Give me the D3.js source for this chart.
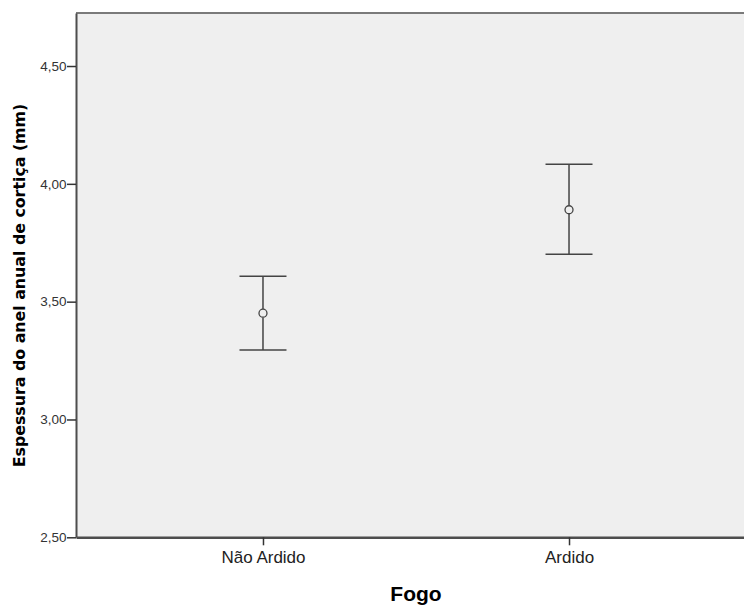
<!DOCTYPE html>
<html>
<head>
<meta charset="utf-8">
<script src="https://cdn.jsdelivr.net/npm/d3@7"></script>
<style>
  html, body { margin: 0; padding: 0; background: #fff; }
  svg { display: block; }
</style>
</head>
<body>
<script>
// Mean bark ring thickness with 95% confidence interval, by fire status
const categories = ["Não Ardido", "Ardido"];
const means = [3.451, 3.890];
const ciLower = [3.295, 3.701];
const ciUpper = [3.608, 4.083];
const yTicks = [2.5, 3.0, 3.5, 4.0, 4.5];
const yDomain = [2.5, 4.725];

const width = 744, height = 608;
const plot = { left: 76, top: 13, right: 756, bottom: 537.3 };

const svg = d3.select("body").append("svg")
  .attr("width", width).attr("height", height);

const x = d3.scalePoint()
  .domain(categories)
  .range([plot.left, plot.right])
  .padding(0.611);

const y = d3.scaleLinear()
  .domain(yDomain)
  .range([plot.bottom, plot.top]);

const ptFormat = d3.formatLocale({ decimal: ",", thousands: ".", grouping: [3], currency: ["", " €"] }).format(".2f");

// plot background
svg.append("rect")
  .attr("x", plot.left).attr("y", plot.top)
  .attr("width", plot.right - plot.left).attr("height", plot.bottom - plot.top)
  .attr("fill", "#efefef");

// frame top
svg.append("line")
  .attr("x1", plot.left).attr("x2", plot.right)
  .attr("y1", plot.top).attr("y2", plot.top)
  .attr("stroke", "#7a7a7a").attr("stroke-width", 2);

// y axis
const yAxis = svg.append("g")
  .attr("transform", `translate(${plot.left},0)`)
  .call(d3.axisLeft(y).tickValues(yTicks).tickFormat(ptFormat).tickSize(9).tickSizeOuter(0));
yAxis.select(".domain").attr("stroke", "#4d4d4d").attr("stroke-width", 2);
yAxis.selectAll(".tick line").attr("stroke", "#333").attr("stroke-width", 1.5);
yAxis.selectAll(".tick text")
  .attr("x", -9.5)
  .attr("fill", "#333")
  .style("font-family", "'Liberation Sans', Arial, sans-serif")
  .style("font-size", "13.5px");

// x axis
const xAxis = svg.append("g")
  .attr("transform", `translate(0,${plot.bottom})`)
  .call(d3.axisBottom(x).tickSize(8).tickSizeOuter(0));
xAxis.select(".domain").attr("stroke", "#4d4d4d").attr("stroke-width", 2.5);
xAxis.selectAll(".tick line").attr("stroke", "#333").attr("stroke-width", 1.5);
xAxis.selectAll(".tick text")
  .attr("y", 14)
  .attr("fill", "#222")
  .style("font-family", "'Liberation Sans', Arial, sans-serif")
  .style("font-size", "17px");

// error bars
const cap = 23.5;
const bars = svg.append("g").selectAll("g")
  .data(categories.map((c, i) => ({ c, m: means[i], lo: ciLower[i], hi: ciUpper[i] })))
  .join("g")
  .attr("stroke", "#444")
  .attr("fill", "none");

bars.append("line")
  .attr("x1", d => x(d.c)).attr("x2", d => x(d.c))
  .attr("y1", d => y(d.hi)).attr("y2", d => y(d.m) - 4.2)
  .attr("stroke-width", 1.5);
bars.append("line")
  .attr("x1", d => x(d.c)).attr("x2", d => x(d.c))
  .attr("y1", d => y(d.m) + 4.2).attr("y2", d => y(d.lo))
  .attr("stroke-width", 1.5);
bars.append("line")
  .attr("x1", d => x(d.c) - cap).attr("x2", d => x(d.c) + cap)
  .attr("y1", d => y(d.hi)).attr("y2", d => y(d.hi))
  .attr("stroke-width", 1.5);
bars.append("line")
  .attr("x1", d => x(d.c) - cap).attr("x2", d => x(d.c) + cap)
  .attr("y1", d => y(d.lo)).attr("y2", d => y(d.lo))
  .attr("stroke-width", 1.5);
bars.append("circle")
  .attr("cx", d => x(d.c)).attr("cy", d => y(d.m))
  .attr("r", 4).attr("stroke-width", 1.3);

// axis titles
svg.append("text")
  .attr("x", (plot.left + plot.right) / 2)
  .attr("y", 601)
  .attr("text-anchor", "middle")
  .style("font-family", "'Liberation Sans', Arial, sans-serif")
  .style("font-weight", "bold")
  .style("font-size", "21px")
  .attr("fill", "#000")
  .text("Fogo");

svg.append("text")
  .attr("transform", `translate(25,${285.5}) rotate(-90)`)
  .attr("text-anchor", "middle")
  .style("font-family", "'DejaVu Sans', sans-serif")
  .style("font-weight", "bold")
  .style("font-size", "15.8px")
  .attr("fill", "#000")
  .text("Espessura do anel anual de cortiça (mm)");
</script>
</body>
</html>
